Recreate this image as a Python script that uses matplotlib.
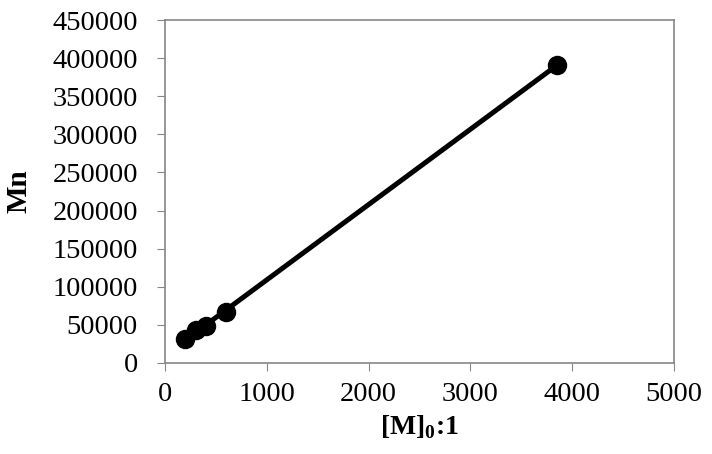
import numpy as np
import matplotlib
matplotlib.use("Agg")
import matplotlib.pyplot as plt

ratio = [195, 300, 405, 600, 3850]
mn = [31500, 43000, 48000, 66500, 391000]
xticks = [0, 1000, 2000, 3000, 4000, 5000]
yticks = list(range(0, 450001, 50000))

plt.rcParams['font.family'] = ['Liberation Serif', 'DejaVu Serif']
plt.rcParams['mathtext.fontset'] = 'custom'
plt.rcParams['mathtext.rm'] = 'Liberation Serif'
plt.rcParams['mathtext.bf'] = 'Liberation Serif:bold'

fig = plt.figure(figsize=(7.12, 4.54), dpi=100)
ax = fig.add_axes([165/712, 1-363/454, (674-165)/712, (363-20)/454])

x = np.array(ratio, dtype=float)
y = np.array(mn, dtype=float)
k, b = np.polyfit(x, y, 1)
xl = np.array([x.min(), x.max()])
ax.plot(xl, k*xl + b, color='black', lw=3.6, zorder=2)
ax.plot(x, y, 'o', color='black', ms=13, zorder=3)

ax.set_xlim(0, 5000)
ax.set_ylim(0, 450000)
ax.set_xticks(xticks)
ax.set_yticks(yticks)
ax.set_xticklabels([str(t) for t in xticks])
ax.set_yticklabels([str(t) for t in yticks])
ax.tick_params(color='#868686', length=5.5, direction='out')
ax.tick_params(axis='x', labelsize=20.5, pad=8)
ax.tick_params(axis='y', labelsize=20.5, pad=14)
for s in ax.spines.values():
    s.set_color('#868686')
    s.set_linewidth(1.2)
ax.set_xlabel(r'[M]$_\mathbf{0}$:1', fontsize=20, fontweight='bold', labelpad=5)
ax.set_ylabel('Mn', fontsize=21, fontweight='bold', labelpad=14)
fig.savefig('out.png', dpi=100)
